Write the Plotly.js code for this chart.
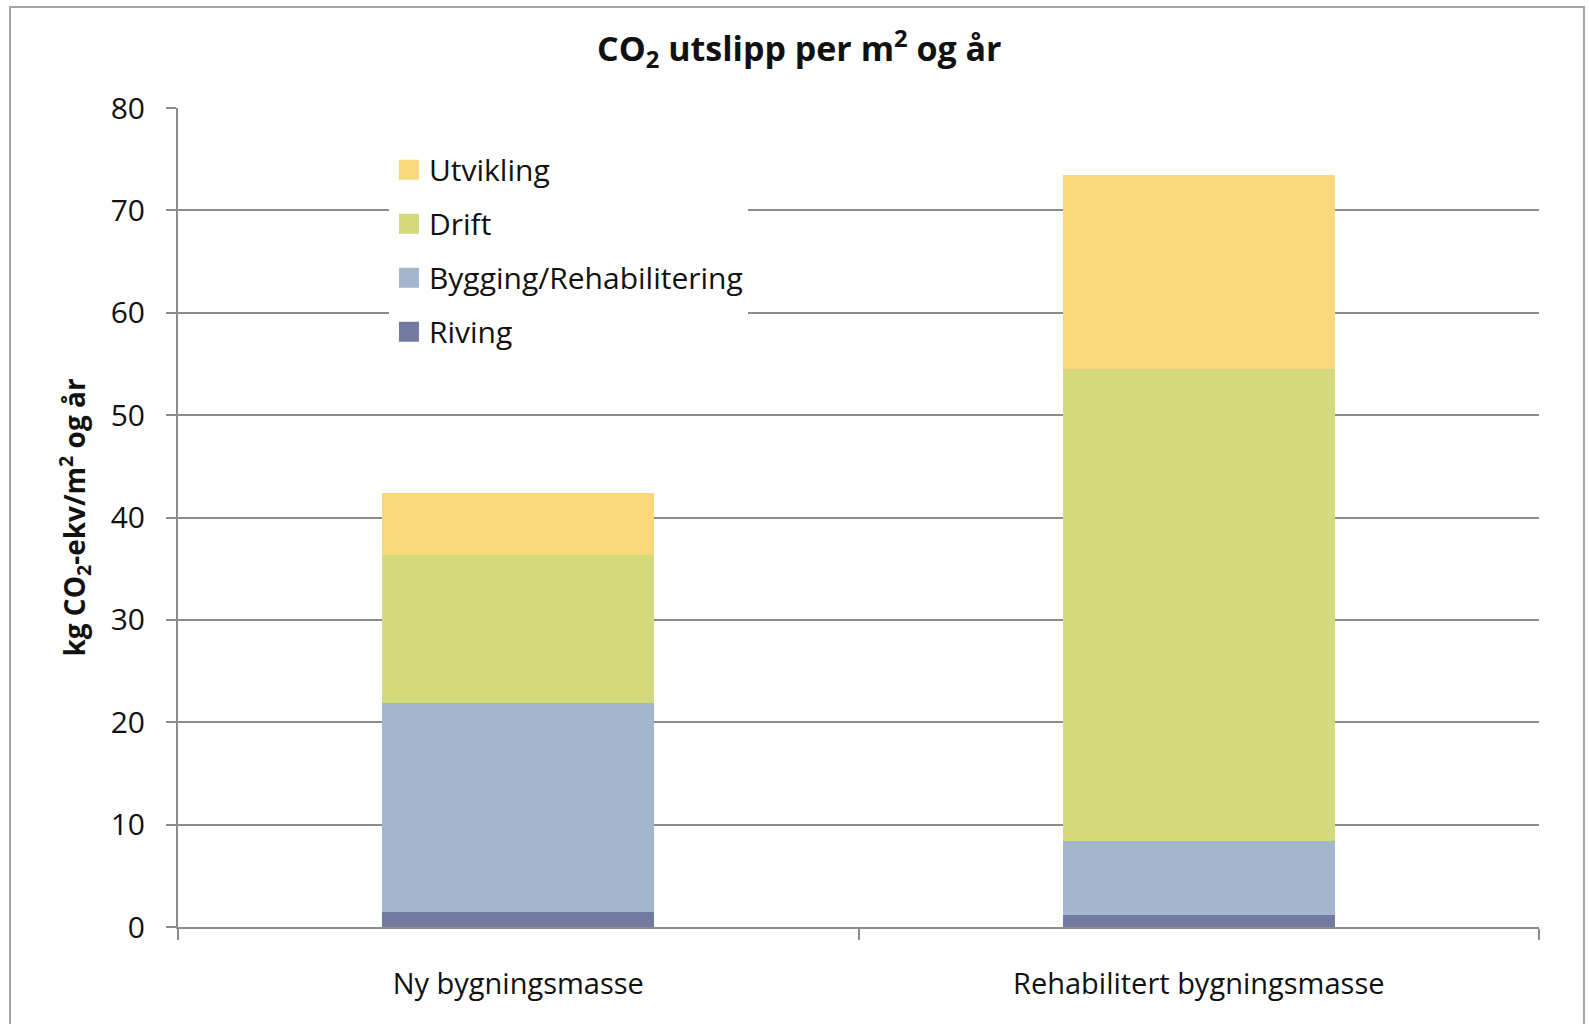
<!DOCTYPE html>
<html>
<head>
<meta charset="utf-8">
<script src="https://cdn.plot.ly/plotly-3.0.1.min.js"></script>
<style>
  html, body { margin: 0; padding: 0; background: #ffffff; }
  #chart { width: 1589px; height: 1024px; }
  #frame { position: absolute; left: 9px; top: 6px; width: 1576px; height: 1100px;
           border: 2px solid #a3a3a3; pointer-events: none; box-sizing: border-box; }
</style>
</head>
<body>
<div id="chart"></div>
<div id="frame"></div>
<script>
// ---- data ----
const categories = ["Ny bygningsmasse", "Rehabilitert bygningsmasse"];
const riving     = [1.5, 1.2];
const bygging    = [20.4, 7.2];
const drift      = [14.4, 46.1];
const utvikling  = [6.1, 19.0];
const seriesNames = ["Riving", "Bygging/Rehabilitering", "Drift", "Utvikling"];
const yTicks = [0, 10, 20, 30, 40, 50, 60, 70, 80];

// ---- styles ----
const colors = ["#727a9f", "#a2b7cd", "#d4da7c", "#f9d87c"];
const seriesValues = [riving, bygging, drift, utvikling];
const FONT = "Open Sans, Noto Sans, sans-serif";

// stacked bars (bottom to top)
const barTraces = seriesValues.map((vals, i) => ({
  type: "bar",
  name: seriesNames[i],
  x: categories,
  y: vals,
  legendgroup: "g" + i,
  showlegend: false,
  marker: { color: colors[i], line: { width: 0 } },
  hoverinfo: "name+y"
}));

// legend keys (larger square swatches), listed top to bottom
const legendTraces = [3, 2, 1, 0].map(i => ({
  type: "scatter",
  mode: "markers",
  name: seriesNames[i],
  x: [null],
  y: [null],
  legendgroup: "g" + i,
  showlegend: true,
  marker: { symbol: "square", size: 16, color: colors[i], line: { color: colors[i], width: 4 } },
  hoverinfo: "skip"
}));

const layout = {
  width: 1589,
  height: 1024,
  barmode: "stack",
  bargap: 0.6,
  paper_bgcolor: "#ffffff",
  plot_bgcolor: "#ffffff",
  margin: { l: 178, r: 50, t: 108, b: 97, pad: 0 },
  font: { family: FONT, color: "#111111" },
  title: {
    text: "<b>CO<sub>2</sub> utslipp per m<sup>2</sup> og år</b>",
    font: { family: FONT, size: 34, color: "#111111" },
    xref: "container", x: 0.503, xanchor: "center",
    yref: "container", y: 0.952, yanchor: "middle"
  },
  xaxis: {
    type: "category",
    showline: true, linecolor: "#8c8c8c", linewidth: 2,
    ticks: "outside", tickson: "boundaries", ticklen: 11, tickwidth: 2, tickcolor: "#8c8c8c",
    tickfont: { family: FONT, size: 29, color: "#111111" },
    ticklabelstandoff: 30,
    showgrid: false, zeroline: false
  },
  yaxis: {
    range: [0, 80],
    tickvals: yTicks,
    ticktext: yTicks.map(String),
    showline: true, linecolor: "#8c8c8c", linewidth: 2,
    ticks: "outside", ticklen: 10, tickwidth: 2, tickcolor: "#8c8c8c",
    showgrid: true, gridcolor: "#8c8c8c", gridwidth: 2,
    zeroline: false,
    tickfont: { family: FONT, size: 30, color: "#111111" },
    ticklabelstandoff: 15,
    title: {
      text: "<b>kg CO<sub>2</sub>-ekv/m<sup>2</sup> og år</b>",
      font: { family: FONT, size: 28, color: "#111111" },
      standoff: 17
    },
    automargin: false
  },
  legend: {
    x: 0.155, xanchor: "left",
    y: 0.9565, yanchor: "top",
    bgcolor: "#ffffff",
    borderwidth: 0,
    traceorder: "grouped",
    tracegroupgap: 12,
    font: { family: FONT, size: 30, color: "#111111" }
  },
  showlegend: true
};

Plotly.newPlot("chart", barTraces.concat(legendTraces), layout, { displayModeBar: false, staticPlot: true });
</script>
</body>
</html>
